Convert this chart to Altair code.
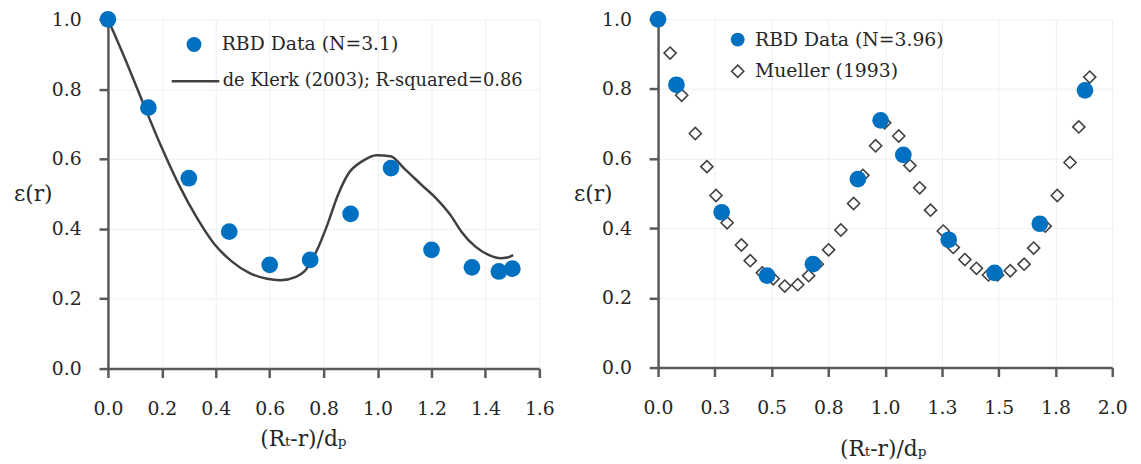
import altair as alt
import pandas as pd

BLUE = "#0070C0"
DARK = "#404040"
AXIS = "#595959"
TEXT = "#262626"
FONT = "DejaVu Serif"
FS = 19

# ---- Left panel data ----
rbd_left_x = [0.0, 0.15, 0.30, 0.45, 0.60, 0.75, 0.90, 1.05, 1.20, 1.35, 1.45, 1.50]
rbd_left_y = [1.0, 0.747, 0.545, 0.392, 0.297, 0.311, 0.443, 0.574, 0.340, 0.290, 0.278, 0.286]

klerk_x = [0.0, 0.066, 0.131, 0.197, 0.262, 0.328, 0.393, 0.459, 0.524, 0.590, 0.640,
           0.695, 0.734, 0.773, 0.813, 0.852, 0.891, 0.944, 0.996, 1.048, 1.101, 1.166,
           1.219, 1.271, 1.311, 1.363, 1.416, 1.455, 1.481, 1.503]
klerk_y = [1.0, 0.882, 0.759, 0.637, 0.528, 0.434, 0.358, 0.307, 0.274, 0.257, 0.253,
           0.262, 0.283, 0.335, 0.410, 0.495, 0.557, 0.594, 0.611, 0.608, 0.571, 0.524,
           0.486, 0.439, 0.392, 0.349, 0.324, 0.316, 0.318, 0.325]

# ---- Right panel data ----
rbd_right_x = [0.0, 0.081, 0.280, 0.480, 0.682, 0.880, 0.980, 1.080, 1.280, 1.482, 1.681, 1.880]
rbd_right_y = [1.0, 0.812, 0.446, 0.264, 0.297, 0.541, 0.710, 0.611, 0.367, 0.272, 0.413, 0.796]

mueller_x = [0.053, 0.104, 0.164, 0.215, 0.255, 0.304, 0.367, 0.406, 0.459, 0.507, 0.558,
             0.615, 0.663, 0.701, 0.751, 0.805, 0.861, 0.902, 0.958, 0.998, 1.060, 1.109,
             1.152, 1.200, 1.256, 1.300, 1.351, 1.402, 1.455, 1.495, 1.551, 1.612, 1.654,
             1.705, 1.758, 1.814, 1.853, 1.901]
mueller_y = [0.903, 0.782, 0.672, 0.577, 0.494, 0.416, 0.352, 0.307, 0.272, 0.255, 0.234,
             0.238, 0.264, 0.297, 0.338, 0.395, 0.471, 0.552, 0.637, 0.703, 0.665, 0.580,
             0.516, 0.452, 0.392, 0.345, 0.310, 0.285, 0.266, 0.266, 0.278, 0.297, 0.343,
             0.406, 0.494, 0.589, 0.691, 0.834]

lbl_rbd_left = "RBD Data (N=3.1)"
lbl_klerk = "de Klerk (2003); R-squared=0.86"
lbl_rbd_right = "RBD Data (N=3.96)"
lbl_mueller = "Mueller (1993)"

x_title = "(Rₜ-r)/dₚ"
y_title = "ε(r)"

left_x_ticks = [0.0, 0.2, 0.4, 0.6, 0.8, 1.0, 1.2, 1.4, 1.6]
right_x_ticks = [0.0, 0.25, 0.5, 0.75, 1.0, 1.25, 1.5, 1.75, 2.0]
y_ticks = [0.0, 0.2, 0.4, 0.6, 0.8, 1.0]

df_rbd_l = pd.DataFrame({"x": rbd_left_x, "y": rbd_left_y, "series": lbl_rbd_left})
df_klerk = pd.DataFrame({"x": klerk_x, "y": klerk_y, "series": lbl_klerk})
df_rbd_r = pd.DataFrame({"x": rbd_right_x, "y": rbd_right_y, "series": lbl_rbd_right})
df_mueller = pd.DataFrame({"x": mueller_x, "y": mueller_y, "series": lbl_mueller})

LW, LH = 436, 353
RW, RH = 459, 352


def legend(x, y, offset, fs=FS, **kw):
    return alt.Legend(
        title=None, orient="none", legendX=x, legendY=y, padding=0,
        labelFont=FONT, labelFontSize=fs, labelColor=TEXT, labelOffset=offset,
        labelLimit=500, **kw)


def xaxis(ticks, fmt, tx, ty):
    return alt.Axis(values=ticks, format=fmt, title=x_title, titleX=tx, titleY=ty,
                    titleAlign="center", titleBaseline="alphabetic", labelPadding=22,
                    labelFlush=False)


def yaxis(tx, h):
    return alt.Axis(values=y_ticks, format=".1f", title=y_title, titleAngle=0,
                    titleAlign="center", titleBaseline="middle", titleX=tx, titleY=h / 2,
                    labelPadding=18)


xl = alt.X("x:Q", scale=alt.Scale(domain=[0, 1.6], nice=False), axis=xaxis(left_x_ticks, ".1f", 197, 78))
yl = alt.Y("y:Q", scale=alt.Scale(domain=[0, 1], nice=False), axis=yaxis(-76, LH))

left_line = alt.Chart(df_klerk).mark_line(strokeWidth=2.5, interpolate="monotone").encode(
    x=xl, y=yl,
    color=alt.Color("series:N", scale=alt.Scale(domain=[lbl_klerk], range=[DARK]),
                    legend=legend(63, 37, 2, fs=18, symbolType="stroke", symbolSize=2304,
                                  symbolStrokeWidth=2.5)),
)
left_pts = alt.Chart(df_rbd_l).mark_circle(size=285, opacity=1).encode(
    x=xl, y=yl,
    color=alt.Color("series:N", scale=alt.Scale(domain=[lbl_rbd_left], range=[BLUE]),
                    legend=legend(77.5, 16, 18.5, symbolType="circle", symbolSize=225,
                                  symbolOpacity=1)),
)
left = alt.layer(left_line, left_pts).resolve_scale(color="independent").properties(width=LW, height=LH)

xr = alt.X("x:Q", scale=alt.Scale(domain=[0, 2.0], nice=False), axis=xaxis(right_x_ticks, ".1f", 227, 89))
yr = alt.Y("y:Q", scale=alt.Scale(domain=[0, 1], nice=False), axis=yaxis(-66, RH))

right_mu = alt.Chart(df_mueller).mark_point(shape="diamond", size=150, filled=False,
                                             strokeWidth=1.6, opacity=1).encode(
    x=xr, y=yr,
    color=alt.Color("series:N", scale=alt.Scale(domain=[lbl_mueller], range=[DARK]),
                    legend=legend(71, 43, 8, symbolType="diamond", symbolSize=150,
                                  symbolStrokeWidth=1.6)),
)
right_pts = alt.Chart(df_rbd_r).mark_circle(size=285, opacity=1).encode(
    x=xr, y=yr,
    color=alt.Color("series:N", scale=alt.Scale(domain=[lbl_rbd_right], range=[BLUE]),
                    legend=legend(71, 11, 8, symbolType="circle", symbolSize=196,
                                  symbolOpacity=1)),
)
right = alt.layer(right_mu, right_pts).resolve_scale(color="independent").properties(width=RW, height=RH)

chart = alt.hconcat(left, right, spacing=120, bounds="flush").properties(
    padding={"left": 5, "top": 0, "right": 5, "bottom": 0}
).configure_view(stroke=None).configure_axis(
    labelFont=FONT, labelFontSize=FS, labelColor=TEXT,
    titleFont=FONT, titleFontSize=22, titleFontWeight="normal", titleColor=TEXT,
    domainColor=AXIS, domainWidth=2.5, tickColor=AXIS, tickWidth=2.5, tickSize=9,
    gridColor="#efefef", gridWidth=1,
)

chart.save("out.html", embed_options={"renderer": "svg", "actions": False})
